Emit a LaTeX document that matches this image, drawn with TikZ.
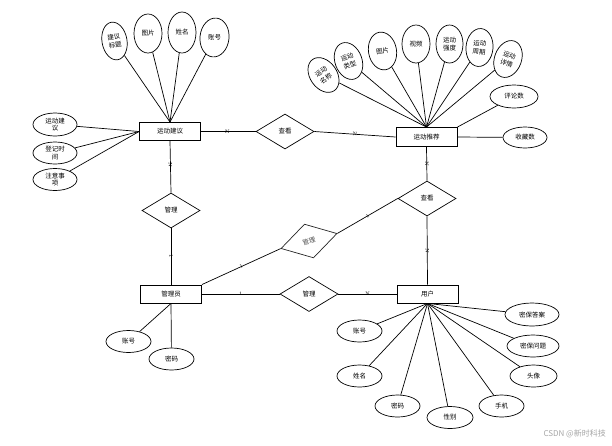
\documentclass[tikz,border=0pt]{standalone}
\usepackage{fontspec}
\newfontfamily\cjk{Noto Sans CJK SC}
\usetikzlibrary{shapes.geometric}
\tikzset{
  ent/.style={draw, line width=0.9pt, minimum width=61pt, minimum height=18pt, inner sep=0pt, font=\cjk\fontsize{6.5}{7}\selectfont},
  rel/.style={draw, diamond, line width=0.7pt, minimum width=58pt, minimum height=35pt, inner sep=0pt, font=\cjk\fontsize{6.5}{7}\selectfont},
  attr/.style={draw, ellipse, line width=0.7pt, inner sep=0pt, align=center, font=\cjk\fontsize{6.5}{8.5}\selectfont},
  tall/.style={attr, minimum width=27pt, minimum height=38pt},
  wide/.style={attr, minimum width=45pt, minimum height=22pt},
  conn/.style={line width=0.7pt},
  card/.style={font=\fontsize{5}{5}\selectfont, inner sep=0.5pt, sloped}
}
\begin{document}
\begin{tikzpicture}[x=1pt,y=-1pt]
\useasboundingbox[fill=white] (0,0) rectangle (612,445);
% entities
\node[ent] (ya) at (170,131.5) {运动建议};
\node[ent, minimum height=19pt] (yt) at (426.5,137) {运动推荐};
\node[ent] (gly) at (171,294) {管理员};
\node[ent] (yh) at (427.5,294) {用户};
% relationships
\node[rel] (ck1) at (285,131.5) {查看};
\node[rel] (ck2) at (427,198.5) {查看};
\node[rel] (gl1) at (171,210.5) {管理};
\node[rel] (gl2) at (309,294) {管理};
\node[rel, rotate=15, draw=black!85, text=black!70] (md) at (309,241) {管理};
% attributes of 运动建议 (top)
\node[tall, minimum width=25pt, rotate=10] (a1) at (114.5,41) {建议\\标题};
\node[tall, minimum width=28pt, minimum height=39pt] (a2) at (148,33.5) {图片};
\node[tall, minimum width=28pt, minimum height=41pt] (a3) at (182,32.5) {姓名};
\node[tall, minimum width=29pt, minimum height=39pt, rotate=-6] (a4) at (214.5,37.5) {账号};
% attributes of 运动建议 (left)
\node[attr, minimum width=44pt, minimum height=23pt, font=\cjk\fontsize{6.5}{7.5}\selectfont] (l1) at (55,124.5) {运动建\\议};
\node[attr, minimum width=44pt, minimum height=22pt, font=\cjk\fontsize{6.5}{7.5}\selectfont] (l2) at (55,153) {登记时\\间};
\node[attr, minimum width=44pt, minimum height=22pt, font=\cjk\fontsize{6.5}{7.5}\selectfont] (l3) at (55,179.5) {注意事\\项};
% attributes of 运动推荐
\node[tall, rotate=35] (r1) at (323.5,75) {运动\\名称};
\node[tall, rotate=20] (r2) at (348.5,61) {运动\\类型};
\node[tall, minimum width=28pt, rotate=10] (r3) at (382.5,51) {图片};
\node[tall, minimum width=28pt] (r4) at (416,44) {视频};
\node[tall] (r5) at (449.5,44) {运动\\强度};
\node[tall, rotate=-5] (r6) at (479.5,47.5) {运动\\周期};
\node[tall, rotate=-20] (r7) at (508,59) {运动\\详情};
\node[attr, minimum width=48pt, minimum height=23pt] (r8) at (514,96.5) {评论数};
\node[attr, minimum width=44pt, minimum height=21pt] (r9) at (525,137.5) {收藏数};
% attributes of 管理员
\node[wide] (g1) at (128.5,341.5) {账号};
\node[wide] (g2) at (171.5,359) {密码};
% attributes of 用户
\node[wide] (u1) at (359.5,331) {账号};
\node[wide] (u2) at (359.5,376) {姓名};
\node[wide] (u3) at (397.5,406) {密码};
\node[wide, minimum width=46pt] (u4) at (450,417.5) {性别};
\node[wide] (u5) at (501.5,406) {手机};
\node[wide, minimum width=47pt] (u6) at (533.5,376) {头像};
\node[wide, minimum width=52pt] (u7) at (533,346) {密保问题};
\node[wide, minimum width=54pt, minimum height=23pt] (u8) at (532,314.5) {密保答案};
% attribute connectors
\foreach \n in {a1,a2,a3,a4} \draw[conn] (\n) -- (ya.north);
\foreach \n in {l1,l2,l3} \draw[conn] (\n) -- (ya.west);
\foreach \n in {r1,r2,r3,r4,r5,r6,r7} \draw[conn] (\n) -- (yt.north);
\draw[conn] (r8) -- (yt.north east);
\draw[conn] (r9) -- (yt.east);
\foreach \n in {g1,g2} \draw[conn] (\n) -- (gly.south);
\foreach \n in {u1,u2,u3,u4,u5,u6,u7,u8} \draw[conn] (\n) -- (yh.south);
% relationship connectors
\draw[conn] (ya.east) -- node[card, pos=0.48] {N} (ck1.west);
\draw[conn] (ck1.east) -- node[card] {N} (yt.west);
\draw[conn] (ya.south) -- node[card, pos=0.47] {N} (gl1.north);
\draw[conn] (gl1.south) -- node[card] {1} (gly.north);
\draw[conn] (gly.north east) -- node[card] {1} (md.west);
\draw[conn] (md.east) -- node[card] {1} (ck2.west);
\draw[conn] (yt.south) -- node[card] {N} (ck2.north);
\draw[conn] (ck2.south) -- node[card] {N} (yh.north);
\draw[conn] (gly.east) -- node[card] {1} (gl2.west);
\draw[conn] (gl2.east) -- node[card] {N} (yh.west);
% watermark
\node[font=\cjk\fontsize{8}{8}\selectfont, text=black!35, anchor=east, inner sep=0pt] (wm) at (606,434) {CSDN @新时科技};
\end{tikzpicture}
\end{document}
